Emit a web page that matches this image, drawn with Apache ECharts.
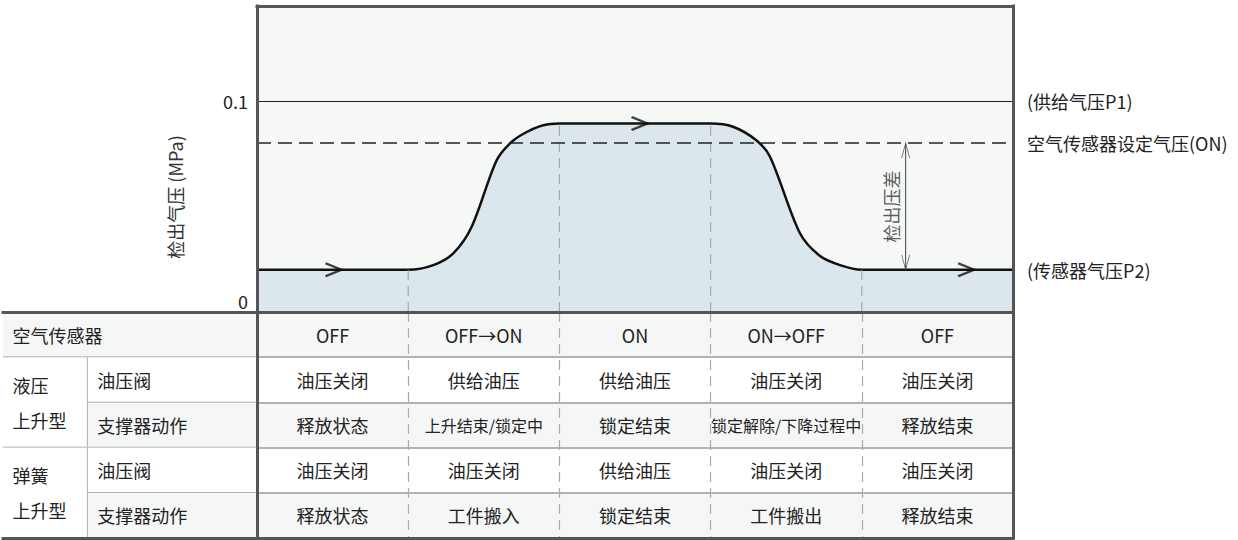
<!DOCTYPE html>
<html><head><meta charset="utf-8">
<script src="https://cdn.jsdelivr.net/npm/echarts@6/dist/echarts.min.js"></script>
<style>html,body{margin:0;padding:0;background:#fff}#chart{width:1238px;height:540px}</style>
</head><body><div id="chart"></div>
<script>
const FONT = "'Noto Sans CJK SC', 'Noto Sans', sans-serif";
const TXT = '#222';

// ---- pressure curve (x: phase position 0..5, y: MPa) ----
const curveX = [0, 1, 1.166, 1.298, 1.42, 1.585, 1.684, 1.784, 1.894, 2, 3, 3.148, 3.30, 3.393, 3.591, 3.724, 3.856, 4, 5];
const curveY = [0.02, 0.02, 0.0222, 0.0278, 0.0404, 0.0719, 0.0806, 0.0853, 0.0885, 0.0893, 0.0893, 0.0878, 0.0815, 0.0736, 0.0373, 0.0265, 0.0222, 0.02, 0.02];

const yTicks = [0, 0.1];
const yTickLabels = ['0', '0.1'];
const yAxisTitle = '检出气压 (MPa)';

const supplyP1 = 0.1;
const setPointOn = 0.08;
const sensorP2 = 0.02;
const refLabels = ['(供给气压P1)', '空气传感器设定气压(ON)', '(传感器气压P2)'];

const diffX = 4.29;
const diffLabelX = 4.19;
const diffLabelY = 0.05;
const diffLabel = '检出压差';

const arrowX = [0.506, 2.53, 4.69];
const arrowY = [0.02, 0.0893, 0.02];

const phaseBounds = [1, 2, 3, 4];

// ---- table ----
const sensorHeader = '空气传感器';
const groupNames = ['液压\n上升型', '弹簧\n上升型'];
const itemNames = ['油压阀', '支撑器动作'];
const sensorStates = ['OFF', 'OFF→ON', 'ON', 'ON→OFF', 'OFF'];
const hydValve = ['油压关闭', '供给油压', '供给油压', '油压关闭', '油压关闭'];
const hydAction = ['释放状态', '上升结束/锁定中', '锁定结束', '锁定解除/下降过程中', '释放结束'];
const sprValve = ['油压关闭', '油压关闭', '供给油压', '油压关闭', '油压关闭'];
const sprAction = ['释放状态', '工件搬入', '锁定结束', '工件搬出', '释放结束'];

// ---- build ----
const curveData = curveX.map((x, i) => [x, curveY[i]]);
const dividerData = phaseBounds.map(b => [b, curveY[curveX.indexOf(b)]]);

const tableRows = [sensorStates, hydValve, hydAction, sprValve, sprAction];
const tableCells = [];
tableRows.forEach((row, r) => row.forEach((t, c) => tableCells.push([c + 0.5, r + 0.5, t])));

const GRAY = '#f5f7f7', WHITE = '#ffffff';
const leftCells = [{x0: 0, x1: 3, y0: 0, y1: 1, text: sensorHeader, bg: GRAY}];
groupNames.forEach((g, gi) => {
  const base = 1 + gi * 2;
  leftCells.push({x0: 0, x1: 1, y0: base, y1: base + 2, text: g, bg: WHITE});
  itemNames.forEach((it, ii) => {
    leftCells.push({x0: 1, x1: 3, y0: base + ii, y1: base + ii + 1, text: it, bg: ii ? GRAY : WHITE});
  });
});

const DARK = {color: '#555', width: 3, cap: 'square'};
const hidden = {axisTick: {show: false}, axisLabel: {show: false}, splitLine: {show: false}};

const chart = echarts.init(document.getElementById('chart'), null, {renderer: 'svg'});
chart.setOption({
  animation: false,
  backgroundColor: '#ffffff',
  textStyle: {fontFamily: FONT},
  grid: [
    {left: 257, top: 6, width: 756, height: 306, show: true, backgroundColor: '#f6f8f8', borderWidth: 0},
    {left: 257, top: 312, width: 756, height: 226},
    {left: 3, top: 312, width: 254, height: 226}
  ],
  xAxis: [
    Object.assign({gridIndex: 0, type: 'value', min: 0, max: 5, position: 'bottom', z: 10,
      axisLine: {show: true, onZero: false, lineStyle: DARK}}, hidden),
    Object.assign({gridIndex: 0, type: 'value', min: 0, max: 5, position: 'top', z: 10,
      axisLine: {show: true, onZero: false, lineStyle: DARK}}, hidden),
    {gridIndex: 1, type: 'value', min: 0, max: 5, interval: 1, position: 'bottom', z: 10,
      axisLine: {show: true, onZero: false, lineStyle: DARK}, axisTick: {show: false}, axisLabel: {show: false},
      splitLine: {show: true, showMinLine: false, showMaxLine: false, lineStyle: {color: '#aaaaaa', width: 1.2, type: [10, 6]}}},
    Object.assign({gridIndex: 2, type: 'value', min: 0, max: 3, position: 'bottom', z: 10,
      axisLine: {show: true, onZero: false, lineStyle: DARK}}, hidden),
    Object.assign({gridIndex: 2, type: 'value', min: 0, max: 3, position: 'top', z: 10,
      axisLine: {show: true, onZero: false, lineStyle: DARK}}, hidden)
  ],
  yAxis: [
    {gridIndex: 0, type: 'value', min: 0, max: 0.145, interval: 0.1, position: 'left', z: 10,
      axisLine: {show: true, onZero: false, lineStyle: DARK}, axisTick: {show: false}, splitLine: {show: false},
      axisLabel: {show: true, margin: 9, fontSize: 18, color: TXT, fontFamily: FONT,
        formatter: v => {
          const i = yTicks.findIndex(t => Math.abs(t - v) < 1e-9);
          if (i < 0) return '';
          return i === 0 ? '{z|' + yTickLabels[i] + '}' : yTickLabels[i];
        },
        rich: {z: {fontSize: 18, color: TXT, fontFamily: FONT, padding: [0, 0, 23, 0]}}}},
    Object.assign({gridIndex: 0, type: 'value', min: 0, max: 0.145, position: 'right', z: 10,
      axisLine: {show: true, onZero: false, lineStyle: DARK}}, hidden),
    {gridIndex: 1, type: 'value', min: 0, max: 5, interval: 1, inverse: true, position: 'left',
      axisLine: {show: false}, axisTick: {show: false}, axisLabel: {show: false},
      splitLine: {show: true, showMinLine: false, showMaxLine: false, lineStyle: {color: '#9a9a9a', width: 1.5}},
      splitArea: {show: true, areaStyle: {color: [GRAY, WHITE]}}},
    Object.assign({gridIndex: 1, type: 'value', min: 0, max: 5, inverse: true, position: 'right', z: 10,
      axisLine: {show: true, onZero: false, lineStyle: DARK}}, hidden),
    Object.assign({gridIndex: 2, type: 'value', min: 0, max: 5, inverse: true, position: 'right', z: 10,
      axisLine: {show: true, onZero: false, lineStyle: DARK}}, hidden)
  ],
  graphic: [{
    type: 'text', x: 175, y: 197, rotation: Math.PI / 2,
    style: {text: yAxisTitle, align: 'center', verticalAlign: 'middle', fontSize: 18, fontFamily: FONT, fill: '#333'}
  }],
  series: [
    {
      name: 'curve', type: 'line', xAxisIndex: 0, yAxisIndex: 0, data: curveData,
      smooth: 0.3, showSymbol: false, symbol: 'none',
      lineStyle: {color: '#111', width: 2.5},
      areaStyle: {color: '#dce6ed', opacity: 1},
      z: 3,
      markLine: {
        silent: true, symbol: ['none', 'none'],
        label: {show: true, position: 'end', distance: 14, fontSize: 18, color: TXT, fontFamily: FONT},
        data: [
          {yAxis: supplyP1, lineStyle: {color: '#222', width: 1.2, type: 'solid'}, label: {formatter: refLabels[0]}},
          {yAxis: setPointOn, lineStyle: {color: '#222', width: 1.6, type: [14, 7]}, label: {formatter: refLabels[1]}},
          {yAxis: sensorP2, lineStyle: {color: 'rgba(0,0,0,0)', width: 0}, label: {formatter: refLabels[2]}}
        ]
      }
    },
    {
      name: 'dividers', type: 'custom', xAxisIndex: 0, yAxisIndex: 0, data: dividerData, z: 4,
      renderItem: (params, api) => {
        const a = api.coord([api.value(0), 0]);
        const b = api.coord([api.value(0), api.value(1)]);
        return {type: 'line', shape: {x1: a[0], y1: a[1], x2: b[0], y2: b[1]},
          style: {stroke: '#a8a8a8', lineWidth: 1.2, lineDash: [10, 6]}};
      }
    },
    {
      name: 'diffLine', type: 'line', xAxisIndex: 0, yAxisIndex: 0, symbol: 'none',
      data: [[diffX, setPointOn], [diffX, sensorP2]], lineStyle: {color: '#444', width: 1}, z: 4
    },
    {
      name: 'diffHeads', type: 'scatter', xAxisIndex: 0, yAxisIndex: 0, z: 5,
      itemStyle: {color: 'none', borderColor: '#444', borderWidth: 1},
      data: [
        {value: [diffX, setPointOn], symbol: 'path://M0,16L4,0L8,16', symbolSize: [8, 15], symbolOffset: [0, '50%']},
        {value: [diffX, sensorP2], symbol: 'path://M0,0L4,16L8,0', symbolSize: [8, 15], symbolOffset: [0, '-50%']}
      ]
    },
    {
      name: 'diffLabel', type: 'scatter', xAxisIndex: 0, yAxisIndex: 0, symbolSize: 0,
      data: [[diffLabelX, diffLabelY]],
      label: {show: true, position: 'inside', rotate: 90, formatter: diffLabel, fontSize: 18, color: '#333', fontFamily: FONT}
    },
    {
      name: 'flowArrows', type: 'scatter', xAxisIndex: 0, yAxisIndex: 0, z: 6,
      data: arrowX.map((x, i) => [x, arrowY[i]]),
      symbol: 'path://M0,0L10,5L0,10', symbolSize: [16, 13],
      itemStyle: {color: 'none', borderColor: '#111', borderWidth: 2.5}
    },
    {
      name: 'tableText', type: 'custom', xAxisIndex: 2, yAxisIndex: 2,
      data: tableCells.map(c => [c[0], c[1]]), z: 5,
      renderItem: (params, api) => {
        const cell = tableCells[params.dataIndex];
        const p = api.coord([cell[0], cell[1]]);
        const t = cell[2];
        return {type: 'text', x: p[0], y: p[1],
          style: {text: t, align: 'center', verticalAlign: 'middle', fontSize: t.length > 6 ? 16 : 18, fontFamily: FONT, fill: TXT}};
      }
    },
    {
      name: 'tableHead', type: 'custom', xAxisIndex: 3, yAxisIndex: 4,
      data: leftCells.map(c => [c.x0, c.y0]), z: 2,
      renderItem: (params, api) => {
        const c = leftCells[params.dataIndex];
        const tl = api.coord([c.x0, c.y0]);
        const br = api.coord([c.x1, c.y1]);
        const kids = [
          {type: 'rect', shape: {x: tl[0], y: tl[1], width: br[0] - tl[0], height: br[1] - tl[1]}, style: {fill: c.bg}},
          {type: 'line', shape: {x1: tl[0], y1: br[1], x2: br[0], y2: br[1]}, style: {stroke: '#9a9a9a', lineWidth: 1.5}}
        ];
        if (c.x1 < 3) kids.push({type: 'line', shape: {x1: br[0], y1: tl[1], x2: br[0], y2: br[1]}, style: {stroke: '#9a9a9a', lineWidth: 1.5}});
        kids.push({type: 'text', x: tl[0] + 9.5, y: (tl[1] + br[1]) / 2,
          style: {text: c.text, align: 'left', verticalAlign: 'middle', fontSize: 18, lineHeight: 35, fontFamily: FONT, fill: TXT}});
        return {type: 'group', children: kids};
      }
    }
  ]
});
</script>
</body></html>
